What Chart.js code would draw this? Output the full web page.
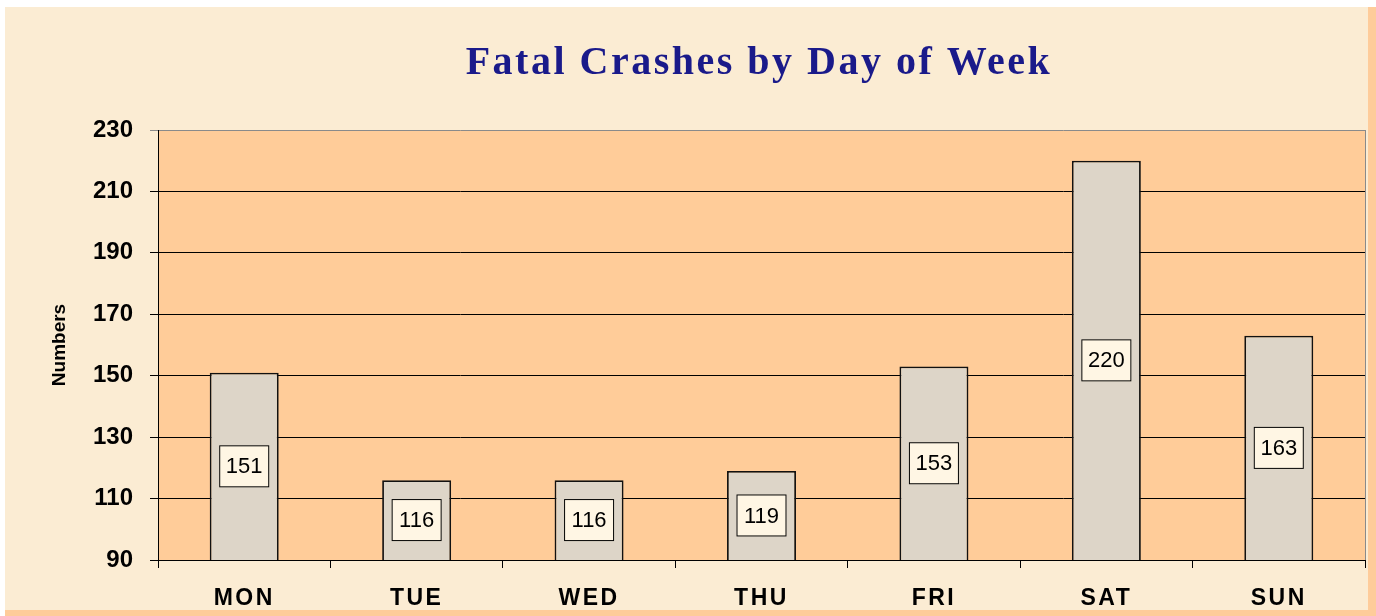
<!DOCTYPE html>
<html>
<head>
<meta charset="utf-8">
<script src="https://cdn.jsdelivr.net/npm/chart.js@4"></script>
<style>
  html, body { margin: 0; padding: 0; background: #ffffff; }
  #wrap { width: 1376px; height: 616px; position: relative; }
</style>
</head>
<body>
<div id="wrap"><canvas id="myChart" width="1376" height="616"></canvas></div>
<script>
var days = ['MON', 'TUE', 'WED', 'THU', 'FRI', 'SAT', 'SUN'];
var crashes = [151, 116, 116, 119, 153, 220, 163];
var yTicks = [90, 110, 130, 150, 170, 190, 210, 230];
var chartTitle = 'Fatal Crashes by Day of Week';
var yTitle = 'Numbers';

// page background, plot area fill, title, value boxes
var fondo = {
    id: 'fondo',
    beforeDraw: function (chart) {
        var ctx = chart.ctx;
        var a = chart.chartArea;
        ctx.save();
        ctx.fillStyle = '#ffffff';
        ctx.fillRect(0, 0, 1376, 616);
        ctx.fillStyle = '#fecc9a';
        ctx.fillRect(5, 7, 1371, 609);
        ctx.fillStyle = '#fbecd3';
        ctx.fillRect(5, 7, 1363, 603);
        ctx.fillStyle = '#ffcc99';
        ctx.fillRect(a.left, a.top, a.right - a.left, a.bottom - a.top);
        ctx.strokeStyle = '#8a8a8a';
        ctx.lineWidth = 1;
        ctx.beginPath();
        ctx.moveTo(a.right + 0.5, a.top);
        ctx.lineTo(a.right + 0.5, a.bottom);
        ctx.stroke();
        ctx.fillStyle = '#1a1a8a';
        ctx.font = 'bold 40px "Liberation Serif", "Times New Roman", serif';
        ctx.textAlign = 'center';
        ctx.textBaseline = 'middle';
        ctx.letterSpacing = '2.5px';
        ctx.fillText(chartTitle, 759, 64);
        ctx.restore();
    },
    afterDatasetsDraw: function (chart) {
        var ctx = chart.ctx;
        var meta = chart.getDatasetMeta(0);
        var bottom = chart.scales.y.getPixelForValue(yTicks[0]);
        ctx.save();
        ctx.font = '22px "Liberation Sans", Arial, sans-serif';
        ctx.textAlign = 'center';
        ctx.textBaseline = 'middle';
        meta.data.forEach(function (bar, i) {
            var cx = bar.x;
            var cy = (bar.y + bottom) / 2;
            ctx.fillStyle = '#fff6e4';
            ctx.fillRect(cx - 25, cy - 21, 50, 42);
            ctx.strokeStyle = '#000000';
            ctx.lineWidth = 1;
            ctx.strokeRect(cx - 24.5, cy - 20.5, 49, 41);
            ctx.fillStyle = '#000000';
            ctx.fillText(String(crashes[i]), cx, cy + 1);
        });
        ctx.restore();
        // letter spacing for the x labels drawn next (z: 1)
        ctx.letterSpacing = '2.5px';
    },
    afterDraw: function (chart) {
        chart.ctx.letterSpacing = '0px';
    }
};

var ctx = document.getElementById('myChart');
new Chart(ctx, {
    type: 'bar',
    data: {
        labels: days,
        datasets: [{
            label: yTitle,
            data: crashes,
            backgroundColor: '#ddd5c8',
            borderColor: '#111111',
            borderWidth: 1.8,
            borderSkipped: false,
            barPercentage: 0.4,
            categoryPercentage: 1.0
        }]
    },
    plugins: [fondo],
    options: {
        responsive: false,
        animation: false,
        devicePixelRatio: 1,
        layout: { padding: { left: 0, right: 11, top: 130, bottom: 0 } },
        plugins: {
            legend: { display: false },
            title: { display: false },
            tooltip: { enabled: false }
        },
        scales: {
            x: {
                grid: {
                    drawOnChartArea: false,
                    drawTicks: true,
                    tickLength: 8,
                    color: '#000000',
                    offset: true
                },
                border: { color: '#000000', width: 1 },
                ticks: {
                    color: '#000000',
                    padding: 17,
                    z: 1,
                    maxRotation: 0,
                    font: { family: '"Liberation Sans", Arial, sans-serif', size: 23, weight: 'bold' }
                },
                afterFit: function (scale) { scale.height = 56; }
            },
            y: {
                min: yTicks[0],
                max: yTicks[yTicks.length - 1],
                afterBuildTicks: function (scale) {
                    scale.ticks = yTicks.map(function (v) { return { value: v }; });
                },
                grid: {
                    color: function (c) { return c.tick && c.tick.value === 230 ? '#8a8a8a' : '#000000'; },
                    lineWidth: 1,
                    tickLength: 8
                },
                border: { color: '#000000', width: 1 },
                ticks: {
                    color: '#000000',
                    padding: 17,
                    font: { family: '"Liberation Sans", Arial, sans-serif', size: 24, weight: 'bold' }
                },
                title: {
                    display: true,
                    text: yTitle,
                    color: '#000000',
                    padding: { top: 48, bottom: 0 },
                    font: { family: '"Liberation Sans", Arial, sans-serif', size: 19, weight: 'bold' }
                },
                afterFit: function (scale) { scale.width = 158; }
            }
        }
    }
});
</script>
</body>
</html>
